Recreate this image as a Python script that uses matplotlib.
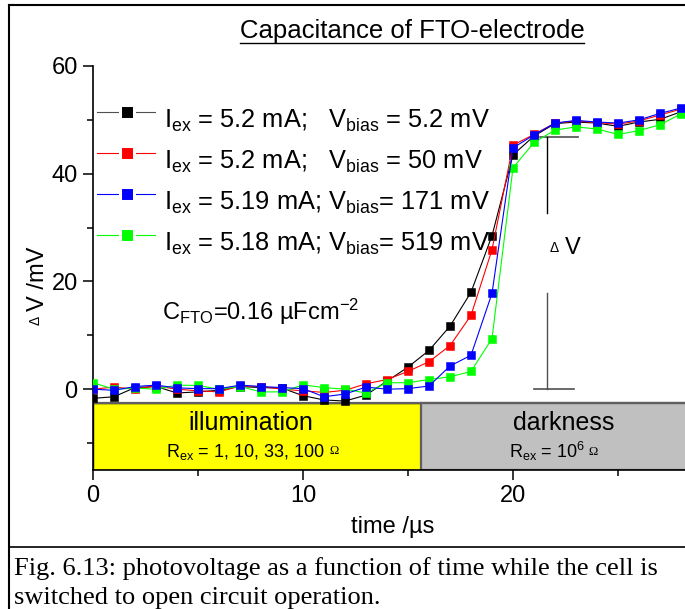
import matplotlib
matplotlib.use('Agg')
import matplotlib.pyplot as plt
from matplotlib.lines import Line2D
from matplotlib.patches import Rectangle
from matplotlib.ticker import MultipleLocator

plt.rcParams['font.family'] = ['Liberation Sans', 'DejaVu Sans']
plt.rcParams['mathtext.fontset'] = 'custom'
plt.rcParams['mathtext.rm'] = 'Liberation Sans'
plt.rcParams['mathtext.it'] = 'Liberation Sans:italic'

W, H = 685, 609

# photovoltage transients, dV in mV, one point per microsecond
time_us = list(range(29))
dv_black = [-1.7, -1.4, 0.3, 0.5, -0.7, -0.5, -0.2, 0.5, 0.3, 0.2, -1.2, -2.0, -2.2, -1.1,
            1.5, 4.1, 7.2, 11.7, 18.0, 28.5, 43.5, 47.0, 49.3, 49.6, 49.4, 48.8, 49.6, 50.1, 51.5]
dv_red = [0.0, 0.4, 0.0, 0.6, 0.0, -0.3, -0.5, 0.6, 0.5, 0.0, -0.3, -0.6, -0.2, 1.0,
          1.8, 3.3, 5.1, 8.1, 13.7, 25.9, 45.3, 47.3, 49.4, 49.8, 49.5, 49.2, 49.8, 50.9, 52.0]
dv_green = [1.2, 0.0, 0.2, 0.0, 0.75, 0.7, 0.0, 0.5, -0.5, -0.5, 0.8, 0.3, 0.0, -0.7,
            1.2, 1.2, 1.8, 2.3, 3.3, 9.4, 41.1, 45.8, 48.1, 48.7, 48.3, 47.3, 48.0, 49.1, 51.1]
dv_blue = [0.0, -0.2, 0.5, 0.75, 0.25, 0.1, 0.1, 0.75, 0.5, 0.3, 0.1, -1.4, -0.9, 0.4,
           0.0, 0.1, 0.6, 4.3, 6.3, 17.8, 44.8, 47.2, 49.4, 49.9, 49.6, 49.4, 50.0, 51.2, 52.2]

series = [dv_black, dv_red, dv_green, dv_blue]
colors = ['black', '#ff0000', '#00ff00', '#0000ff']
labels = [
    r'I$_{\rm ex}$ = 5.2 mA;   V$_{\rm bias}$ = 5.2 mV',
    r'I$_{\rm ex}$ = 5.2 mA;   V$_{\rm bias}$ = 50 mV',
    r'I$_{\rm ex}$ = 5.18 mA; V$_{\rm bias}$= 519 mV',
    r'I$_{\rm ex}$ = 5.19 mA; V$_{\rm bias}$= 171 mV',
]
legend_order = [0, 1, 3, 2]

switch_time = 15.6
delta_v = 46.9


def fx(px):
    return px / W


def fy(py):
    return 1 - py / H


fig = plt.figure(figsize=(W / 100, H / 100), dpi=100)
ax = fig.add_axes([fx(93), fy(470), 28.5 * 21 / W, (470 - 66) / H])
ax.set_xlim(0, 28.5)
ax.set_ylim(-15, 60)

# illumination / darkness bars along the bottom
ax.add_patch(Rectangle((0, -15), switch_time, 12.5, facecolor='#ffff00',
                       edgecolor='black', lw=1.0, zorder=1))
ax.add_patch(Rectangle((switch_time, -15), 20, 12.5, facecolor='#c0c0c0',
                       edgecolor='#606060', lw=1.6, zorder=1))
ax.plot([0, switch_time + 20], [-2.5, -2.5], color='#606060', lw=1.6, zorder=1.5)
ax.text(7.5, -6.3, 'illumination', ha='center', va='center', fontsize=18)
r1 = ax.text(7.25, -11.6, r'R$_{\rm ex}$ = 1, 10, 33, 100', ha='center', va='center',
             fontsize=13)
ax.text(22.4, -6.3, 'darkness', ha='center', va='center', fontsize=18)
r2 = ax.text(21.6, -11.6, r'R$_{\rm ex}$ = 10$^{6}$', ha='center', va='center', fontsize=13)
for t in (r1, r2):
    ax.annotate('Ω', xy=(1, 0.22), xycoords=t, xytext=(3, 0), textcoords='offset points',
                va='bottom', ha='left', fontsize=9, family='Liberation Serif')

for i, (vals, c) in enumerate(zip(series, colors)):
    ax.plot(time_us, vals, color=c, lw=0.8, marker='s', ms=6, mfc=c, mec=c,
            mew=0.4, zorder=3 + i)

# delta V bracket
ax.plot([21.0, 22.9], [0, 0], color='#505050', lw=1.2)
ax.plot([21.6, 21.6], [0, 17.8], color='#505050', lw=1.0)
ax.plot([21.3, 23.1], [delta_v, delta_v], color='#505050', lw=1.2)
ax.plot([21.6, 21.6], [delta_v, 32.8], color='black', lw=1.0)
ax.text(21.95, 26.3, 'Δ', ha='center', va='center', fontsize=10)
ax.text(22.85, 26.3, 'V', ha='center', va='center', fontsize=17)

ax.text(3.3, 14.3, r'C$_{\rm FTO}$=0.16 µFcm$^{-2}$', ha='left', va='center', fontsize=17)

for side in ['top', 'right']:
    ax.spines[side].set_visible(False)
for side in ['left', 'bottom']:
    ax.spines[side].set_linewidth(1.2)
ax.xaxis.set_major_locator(MultipleLocator(10))
ax.xaxis.set_minor_locator(MultipleLocator(5))
ax.yaxis.set_major_locator(MultipleLocator(20))
ax.yaxis.set_minor_locator(MultipleLocator(10))
ax.tick_params(which='major', direction='out', length=7, width=1.1, labelsize=17, pad=4)
ax.tick_params(which='minor', direction='out', length=4, width=1.1)
ax.set_xlabel('time /µs', fontsize=17, labelpad=6)

# y label with a small delta
fig.text(fx(38.5), fy(279), 'V /mV', rotation=90, ha='center', va='center', fontsize=17)
fig.text(fx(36), fy(320), 'Δ', rotation=90, ha='center', va='center', fontsize=10)

# legend drawn by hand: line - marker - line, then label
for row, k in enumerate(legend_order):
    yc = fy(112 + 41 * row)
    c = colors[k]
    lc = '#505050' if c == 'black' else c
    fig.add_artist(Line2D([fx(97), fx(155)], [yc, yc], color=lc, lw=0.8))
    fig.add_artist(Line2D([fx(127)], [yc], marker='s', ms=9.5, mfc=c, mec='white', mew=2.2))
    fig.text(fx(164), fy(128 + 41 * row), labels[k], ha='left', va='baseline', fontsize=18.3)

# underlined heading
title = fig.text(fx(412), fy(38), 'Capacitance of FTO-electrode', ha='center',
                 va='baseline', fontsize=18.5)
fig.canvas.draw()
bb = title.get_window_extent()
fig.add_artist(Line2D([bb.x0 / W, bb.x1 / W], [fy(43), fy(43)], color='black', lw=1.0))

# page frame and caption
fig.add_artist(Line2D([fx(9), fx(9)], [fy(5), fy(700)], color='black', lw=1.5))
fig.add_artist(Line2D([fx(9), fx(700)], [fy(5), fy(5)], color='black', lw=1.5))
fig.add_artist(Line2D([fx(9), fx(700)], [fy(547), fy(547)], color='black', lw=1.2))
fig.text(fx(14), fy(575), 'Fig. 6.13: photovoltage as a function of time while the cell is',
         family='Liberation Serif', fontsize=19, va='baseline')
fig.text(fx(14), fy(604), 'switched to open circuit operation.',
         family='Liberation Serif', fontsize=19, va='baseline')

fig.savefig('out.png', dpi=100)
